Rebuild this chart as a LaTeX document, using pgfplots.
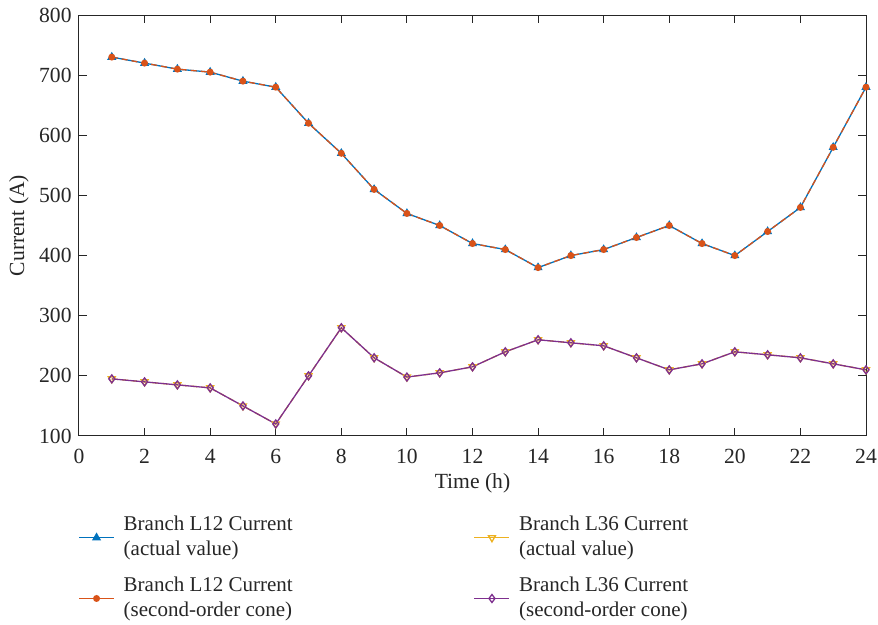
\documentclass[border=0pt]{standalone}
\usepackage{fontspec}
\setmainfont{Liberation Serif}
\usepackage{pgfplots}
\pgfplotsset{compat=1.18}
\definecolor{mblue}{RGB}{0,114,189}
\definecolor{morange}{RGB}{217,83,25}
\definecolor{myellow}{RGB}{237,177,32}
\definecolor{mpurple}{RGB}{126,47,142}
\definecolor{axgray}{RGB}{38,38,38}
\begin{document}
\fontsize{10.5pt}{12.6pt}\selectfont
\begin{tikzpicture}
\begin{axis}[
  name=ax, at={(0,0)}, anchor=south west,
  scale only axis, width=393.5pt, height=210.5pt,
  xmin=0, xmax=24, ymin=100, ymax=800,
  xtick={0,2,...,24}, ytick={100,200,...,800},
  tick align=inside, major tick length=4pt,
  axis line style={axgray, line width=0.5pt},
  every tick/.style={axgray, line width=0.5pt},
  tick label style={font=\fontsize{10.8pt}{12pt}\selectfont, text=axgray},
  xticklabel style={yshift=-3pt},
  /pgf/number format/assume math mode=true,
  xlabel={Time (h)}, ylabel={Current (A)},
  label style={font=\fontsize{10.8pt}{12pt}\selectfont, text=axgray},
  xlabel style={yshift=2.5pt},
  ylabel style={yshift=-2pt},
  legend columns=2, transpose legend,
  legend cell align=left,
  legend style={at={(rel axis cs:0,0)}, anchor=north west, yshift=-36pt, xshift=-3.5pt,
    draw=none, fill=none, font=\fontsize{10.5pt}{12.5pt}\selectfont,
    nodes={align=left, text=axgray},
    /tikz/every odd column/.append style={column sep=2.5pt},
    /tikz/column 2/.append style={column sep=88.5pt},
    row sep=5pt},
  legend image code/.code={\draw[#1] (0pt,0pt) -- (17.5pt,0pt); \draw[#1, solid, mark repeat=2, mark phase=2] plot coordinates {(0pt,0pt) (8.75pt,0pt) (17.5pt,0pt)};},
]
\addplot[color=mblue, line width=0.65pt, mark=triangle*, mark size=2pt, mark options={solid}] coordinates {
(1,730)(2,720)(3,710)(4,705)(5,690)(6,680)(7,620)(8,570)(9,510)(10,470)(11,450)(12,420)
(13,410)(14,380)(15,400)(16,410)(17,430)(18,450)(19,420)(20,400)(21,440)(22,480)(23,580)(24,680)};
\addlegendentry{Branch L12 Current\\(actual value)}
\addplot[color=morange, line width=0.65pt, dash pattern=on 3pt off 2pt, mark=*, mark size=1.4pt, mark options={solid}] coordinates {
(1,730)(2,720)(3,710)(4,705)(5,690)(6,680)(7,620)(8,570)(9,510)(10,470)(11,450)(12,420)
(13,410)(14,380)(15,400)(16,410)(17,430)(18,450)(19,420)(20,400)(21,440)(22,480)(23,580)(24,680)};
\addlegendentry{Branch L12 Current\\(second-order cone)}
\addplot[color=myellow, line width=0.65pt, dash pattern=on 3pt off 2pt, mark=triangle, mark size=2pt, mark options={solid, rotate=180}] coordinates {
(1,195)(2,190)(3,185)(4,180)(5,150)(6,120)(7,200)(8,280)(9,230)(10,198)(11,205)(12,215)
(13,240)(14,260)(15,255)(16,250)(17,230)(18,210)(19,220)(20,240)(21,235)(22,230)(23,220)(24,210)};
\addlegendentry{Branch L36 Current\\(actual value)}
\addplot[color=mpurple, line width=0.65pt, mark=diamond, mark size=2pt, mark options={solid}] coordinates {
(1,195)(2,190)(3,185)(4,180)(5,150)(6,120)(7,200)(8,280)(9,230)(10,198)(11,205)(12,215)
(13,240)(14,260)(15,255)(16,250)(17,230)(18,210)(19,220)(20,240)(21,235)(22,230)(23,220)(24,210)};
\addlegendentry{Branch L36 Current\\(second-order cone)}
\end{axis}
\pgfresetboundingbox
\path (-39.5pt,-94.5pt) rectangle (399.5pt,218pt);
\end{tikzpicture}
\end{document}
